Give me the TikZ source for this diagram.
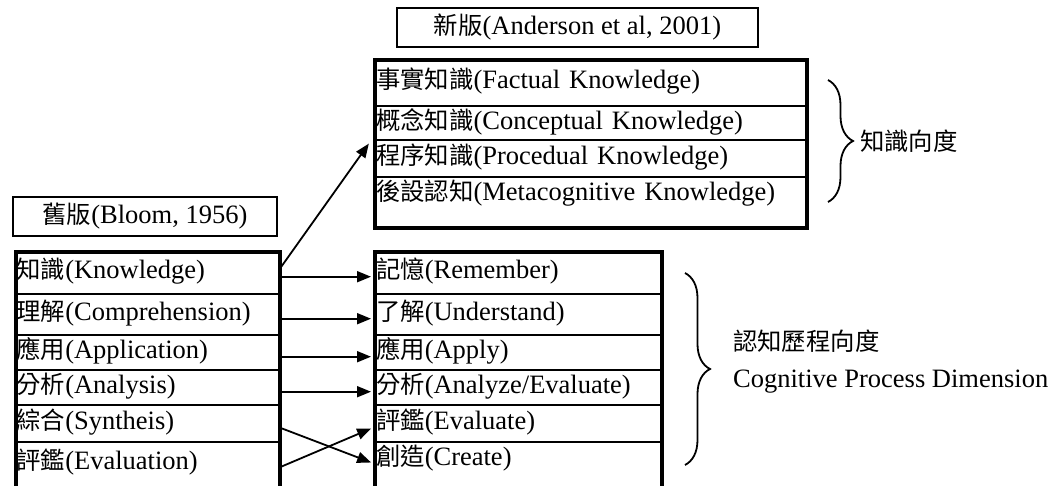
\documentclass[tikz,border=0pt]{standalone}
\usepackage{fontspec}
\setmainfont{Liberation Serif}
\newfontfamily\cjk{Noto Sans CJK TC}[Scale=0.92]
\newcommand\zh[1]{{\cjk #1}}
\usetikzlibrary{arrows.meta,decorations.pathreplacing,positioning}

\begin{document}
\begin{tikzpicture}[x=1pt, y=-1pt, font=\fontsize{26.5}{32}\selectfont,
    row/.style={draw, line width=2pt, anchor=north west, text width=#1, align=left,
      inner xsep=2pt, inner ysep=0pt, text height=18pt},
    frame/.style={draw, line width=4pt, anchor=north west, inner sep=0pt},
    tag/.style={draw, line width=2pt, minimum height=39pt, inner sep=0pt},
    arr/.style={line width=1.8pt, shorten >=2pt, -{Triangle[length=14pt,width=11pt]}},
    brace/.style={decorate, decoration={brace, amplitude=25pt}, line width=1.8pt}]
  \useasboundingbox (0,0) rectangle (1053,486);
  % titles
  \node[tag, minimum width=264pt] (oldtag) at (145,216.5) {\zh{舊版}(Bloom, 1956)};
  \node[tag, minimum width=361pt] (newtag) at (577.5,27.5) {\zh{新版}(Anderson et al, 2001)};
  % old and new levels, row by row
  \foreach \y/\h/\d/\a/\b [count=\i] in {
      250/43/5/{\zh{知識}(Knowledge)}/{\zh{記憶}(Remember)},
      293/41/5/{\zh{理解}(Comprehension)}/{\zh{了解}(Understand)},
      334/35/5/{\zh{應用}(Application)}/{\zh{應用}(Apply)},
      369/35/5/{\zh{分析}(Analysis)}/{\zh{分析}(Analyze/Evaluate)},
      404/37/5/{\zh{綜合}(Syntheis)}/{\zh{評鑑}(Evaluate)}}
    {\node[row=260.5pt, minimum height=\h pt, text depth=\d pt] (o\i) at (13.5,\y) {\a};
     \node[row=283pt, minimum height=\h pt, text depth=\d pt] (n\i) at (373,\y) {\b};}
  \node[row=260.5pt, minimum height=54pt, text depth=17pt] (o6) at (13.5,441) {\zh{評鑑}(Evaluation)};
  \node[row=283pt, minimum height=54pt, text depth=25pt] (n6) at (373,441) {\zh{創造}(Create)};
  % knowledge dimension
  \foreach \y/\h/\d/\t [count=\i] in {
      58/47/5/{\zh{事實知識}(Factual Knowledge)},
      105/34/5/{\zh{概念知識}(Conceptual Knowledge)},
      139/37/5/{\zh{程序知識}(Procedual Knowledge)},
      176/50/21/{\zh{後設認知}(Metacognitive Knowledge)}}
    {\node[row=428pt, minimum height=\h pt, text depth=\d pt] (k\i) at (373,\y) {\t};}
  % thick frames
  \node[frame, minimum width=264.5pt, minimum height=260pt] (oldbox) at (13.5,250) {};
  \node[frame, minimum width=287pt, minimum height=260pt] (newbox) at (373,250) {};
  \node[frame, minimum width=432pt, minimum height=168pt] (knbox) at (373,58) {};
  % arrows
  \draw[arr] ([yshift=4pt]o1.east) -- ([shift={(-3pt,-3pt)}]k3.north west);
  \foreach \i in {1,...,4} {\draw[arr] (o\i.mid east) -- (n\i.mid west);}
  \draw[arr] (o5.mid east) -- (n6.mid west);
  \draw[arr] (o6.mid east) -- (n5.mid west);
  % braces
  \draw[brace] (828,80) -- (828,202);
  \draw[brace] (685,273) -- (685,465);
  \node[anchor=west, inner sep=0pt] (kdim) at (860,141) {\zh{知識向度}};
  \node[anchor=west, inner sep=0pt, align=left, font=\fontsize{26.5}{37}\selectfont] (cdim) at (733,361.5)
    {\zh{認知歷程向度}\\Cognitive Process Dimension};
\end{tikzpicture}
\end{document}
